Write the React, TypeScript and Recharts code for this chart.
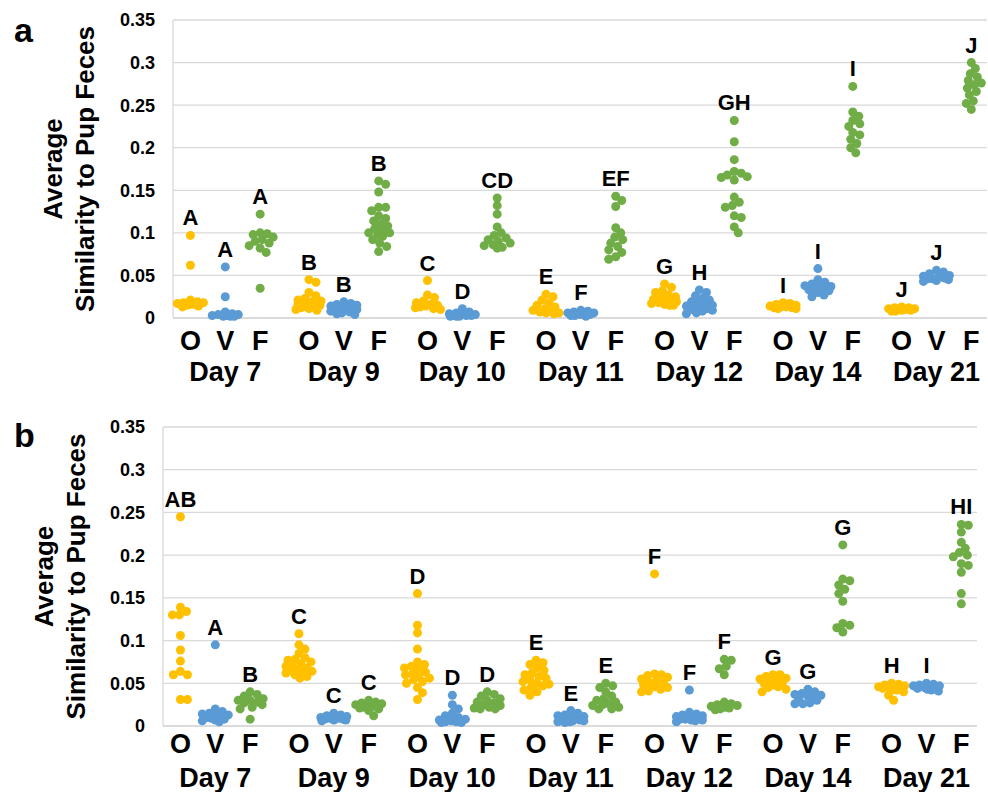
import { ScatterChart, Scatter, XAxis, YAxis, CartesianGrid } from 'recharts';

const days = ['Day 7', 'Day 9', 'Day 10', 'Day 11', 'Day 12', 'Day 14', 'Day 21'];
const groups = ['O', 'V', 'F'];
const colors: Record<string, string> = { O: '#FFC000', V: '#5B9BD5', F: '#70AD47' };
const yTicks = [0, 0.05, 0.1, 0.15, 0.2, 0.25, 0.3, 0.35];

// panel a
const aO = [
  [0.097, 0.062, 0.021, 0.019, 0.018, 0.018, 0.017, 0.016, 0.016, 0.015, 0.014, 0.013],
  [0.045, 0.042, 0.03, 0.026, 0.023, 0.021, 0.02, 0.019, 0.018, 0.018, 0.017, 0.016, 0.016, 0.015, 0.014, 0.013, 0.012, 0.011, 0.01, 0.009],
  [0.044, 0.027, 0.024, 0.02, 0.018, 0.016, 0.015, 0.014, 0.013, 0.012, 0.011, 0.01],
  [0.028, 0.025, 0.021, 0.018, 0.015, 0.013, 0.011, 0.009, 0.008, 0.007, 0.006, 0.006, 0.005],
  [0.04, 0.036, 0.032, 0.03, 0.027, 0.025, 0.024, 0.022, 0.021, 0.02, 0.019, 0.018, 0.017, 0.016, 0.015, 0.015],
  [0.018, 0.017, 0.016, 0.015, 0.014, 0.013, 0.013, 0.012, 0.012, 0.011, 0.011],
  [0.013, 0.012, 0.012, 0.011, 0.011, 0.01, 0.01, 0.009, 0.009, 0.008, 0.008],
];
const aV = [
  [0.06, 0.025, 0.007, 0.005, 0.004, 0.004, 0.003, 0.003, 0.002, 0.002, 0.002],
  [0.019, 0.017, 0.016, 0.015, 0.014, 0.013, 0.013, 0.012, 0.011, 0.011, 0.01, 0.009, 0.008, 0.007, 0.006, 0.005, 0.004],
  [0.011, 0.007, 0.006, 0.005, 0.004, 0.004, 0.003, 0.003, 0.003, 0.002, 0.002, 0.002],
  [0.009, 0.008, 0.007, 0.006, 0.006, 0.005, 0.005, 0.004, 0.004, 0.003, 0.003, 0.002],
  [0.033, 0.03, 0.026, 0.023, 0.021, 0.019, 0.017, 0.016, 0.015, 0.014, 0.013, 0.012, 0.011, 0.01, 0.009, 0.008, 0.006, 0.005],
  [0.058, 0.045, 0.042, 0.04, 0.038, 0.037, 0.036, 0.035, 0.034, 0.033, 0.032, 0.03, 0.027, 0.025],
  [0.056, 0.054, 0.052, 0.05, 0.049, 0.048, 0.047, 0.046, 0.046, 0.045, 0.044, 0.043],
];
const aF = [
  [0.122, 0.1, 0.099, 0.098, 0.095, 0.092, 0.09, 0.088, 0.085, 0.082, 0.077, 0.035],
  [0.161, 0.157, 0.148, 0.13, 0.13, 0.126, 0.12, 0.117, 0.114, 0.11, 0.108, 0.105, 0.102, 0.1, 0.1, 0.098, 0.096, 0.092, 0.088, 0.084, 0.078],
  [0.141, 0.132, 0.122, 0.107, 0.1, 0.097, 0.094, 0.092, 0.09, 0.088, 0.086, 0.085, 0.083, 0.082],
  [0.143, 0.138, 0.131, 0.106, 0.1, 0.095, 0.092, 0.088, 0.084, 0.08, 0.077, 0.072, 0.069],
  [0.232, 0.207, 0.186, 0.172, 0.17, 0.168, 0.166, 0.165, 0.162, 0.142, 0.136, 0.132, 0.13, 0.12, 0.118, 0.107, 0.1],
  [0.272, 0.242, 0.237, 0.232, 0.228, 0.225, 0.218, 0.215, 0.21, 0.205, 0.2, 0.194],
  [0.3, 0.293, 0.287, 0.283, 0.279, 0.276, 0.274, 0.27, 0.266, 0.262, 0.255, 0.252, 0.245],
];
const aLetters = [
  ['A', 'A', 'A'],
  ['B', 'B', 'B'],
  ['C', 'D', 'CD'],
  ['E', 'F', 'EF'],
  ['G', 'H', 'GH'],
  ['I', 'I', 'I'],
  ['J', 'J', 'J'],
];

// panel b
const bO = [
  [0.245, 0.139, 0.134, 0.13, 0.13, 0.106, 0.089, 0.076, 0.064, 0.06, 0.06, 0.031, 0.031],
  [0.108, 0.095, 0.09, 0.085, 0.08, 0.078, 0.077, 0.075, 0.073, 0.072, 0.07, 0.068, 0.066, 0.065, 0.064, 0.063, 0.062, 0.06, 0.058, 0.056],
  [0.155, 0.118, 0.109, 0.09, 0.075, 0.072, 0.07, 0.068, 0.066, 0.063, 0.061, 0.06, 0.058, 0.056, 0.054, 0.052, 0.05, 0.045, 0.039, 0.031],
  [0.077, 0.074, 0.072, 0.068, 0.065, 0.062, 0.06, 0.058, 0.056, 0.054, 0.052, 0.05, 0.049, 0.047, 0.045, 0.042, 0.04, 0.036],
  [0.178, 0.061, 0.06, 0.059, 0.057, 0.055, 0.053, 0.051, 0.05, 0.048, 0.046, 0.045, 0.043, 0.041, 0.04],
  [0.06, 0.06, 0.058, 0.056, 0.055, 0.053, 0.052, 0.05, 0.05, 0.048, 0.046, 0.045, 0.043, 0.04],
  [0.05, 0.049, 0.048, 0.047, 0.046, 0.046, 0.045, 0.045, 0.044, 0.043, 0.042, 0.04, 0.036, 0.03],
];
const bV = [
  [0.095, 0.02, 0.017, 0.015, 0.014, 0.013, 0.012, 0.011, 0.01, 0.009, 0.008, 0.007, 0.006, 0.005],
  [0.015, 0.013, 0.012, 0.011, 0.01, 0.01, 0.009, 0.009, 0.008, 0.008, 0.007, 0.007, 0.006],
  [0.036, 0.025, 0.02, 0.015, 0.012, 0.01, 0.008, 0.007, 0.006, 0.005, 0.005, 0.004, 0.004],
  [0.018, 0.015, 0.013, 0.012, 0.011, 0.01, 0.009, 0.008, 0.008, 0.007, 0.006, 0.006, 0.005, 0.005, 0.004],
  [0.042, 0.016, 0.014, 0.013, 0.012, 0.011, 0.01, 0.01, 0.009, 0.008, 0.008, 0.007, 0.007, 0.006, 0.005],
  [0.043, 0.04, 0.038, 0.037, 0.036, 0.035, 0.035, 0.033, 0.03, 0.027, 0.026, 0.026],
  [0.05, 0.049, 0.048, 0.047, 0.047, 0.046, 0.045, 0.045, 0.044, 0.043, 0.042, 0.041],
];
const bF = [
  [0.04, 0.037, 0.035, 0.032, 0.03, 0.03, 0.028, 0.027, 0.025, 0.022, 0.02, 0.008],
  [0.03, 0.028, 0.027, 0.026, 0.025, 0.024, 0.023, 0.022, 0.021, 0.02, 0.018, 0.012],
  [0.04, 0.037, 0.035, 0.032, 0.03, 0.028, 0.027, 0.025, 0.024, 0.022, 0.021, 0.02, 0.02],
  [0.05, 0.047, 0.045, 0.04, 0.035, 0.032, 0.03, 0.028, 0.026, 0.025, 0.024, 0.022, 0.02, 0.02],
  [0.078, 0.077, 0.07, 0.067, 0.06, 0.028, 0.026, 0.025, 0.024, 0.023, 0.022, 0.021, 0.02, 0.019],
  [0.212, 0.172, 0.17, 0.165, 0.16, 0.155, 0.146, 0.12, 0.118, 0.115, 0.11],
  [0.236, 0.235, 0.227, 0.215, 0.208, 0.203, 0.2, 0.198, 0.19, 0.188, 0.18, 0.155, 0.143],
];
const bLetters = [
  ['AB', 'A', 'B'],
  ['C', 'C', 'C'],
  ['D', 'D', 'D'],
  ['E', 'E', 'E'],
  ['F', 'F', 'F'],
  ['G', 'G', 'G'],
  ['H', 'I', 'HI'],
];

const FONT = 'Liberation Sans, Arial, sans-serif';
const W = 988;
const H = 396;
const GROUP_STEP = 3.4;
const X_MIN = -0.5;
const X_MAX = 22.85;
const Y_MAX = 0.35;
const DOT_R = 4.5;
const DOT_GAP = 7;
const MAX_SPREAD = 13;

const slotX = (d: number, g: number) => d * GROUP_STEP + g;
const xTicks = days.flatMap((_, d) => groups.map((_, g) => slotX(d, g)));

// compact beeswarm: nudge each dot sideways (px) within ±MAX_SPREAD, overlapping when it has to
function swarm(values: number[], center: number, pxX: number, pxY: number) {
  const placed: { x: number; y: number }[] = [];
  const cands: number[] = [0];
  for (let k = 1; k <= MAX_SPREAD; k++) cands.push(k, -k);
  return [...values]
    .sort((a, b) => b - a)
    .map((v) => {
      const py = v * pxY;
      let best = 0;
      let bestDist = -1;
      for (const c of cands) {
        const dmin = placed.reduce((m, p) => Math.min(m, Math.hypot(p.x - c, p.y - py)), Infinity);
        if (dmin >= DOT_GAP) {
          best = c;
          break;
        }
        if (dmin > bestDist + 0.5) {
          bestDist = dmin;
          best = c;
        }
      }
      placed.push({ x: best, y: py });
      return { x: center + best / pxX, y: v };
    });
}

const Dot = (color: string) => (p: any) => <circle cx={p.cx} cy={p.cy} r={DOT_R} fill={color} />;

const LetterShape = (p: any) => (
  <text x={p.cx} y={p.cy - 10} textAnchor="middle" fontSize={22} fontWeight={700} fontFamily={FONT} fill="#000">
    {p.payload.label}
  </text>
);

interface PanelProps {
  O: number[][];
  V: number[][];
  F: number[][];
  letters: string[][];
  panelLetter: string;
  letterY: number;
  plotLeft: number;
  plotRight: number;
  plotTop: number;
  plotBottom: number;
  groupBase: number;
  dayBase: number;
  titleX1: number;
  titleX2: number;
  tickRight: number;
}

function Panel(props: PanelProps) {
  const { O, V, F, letters, plotLeft, plotRight, plotTop, plotBottom } = props;
  const pxX = (plotRight - plotLeft) / (X_MAX - X_MIN);
  const pxY = (plotBottom - plotTop) / Y_MAX;
  const series = { O, V, F } as Record<string, number[][]>;
  const data = groups.map((g, gi) =>
    days.flatMap((_, d) => swarm(series[g][d], slotX(d, gi), pxX, pxY))
  );
  const letterData = days.flatMap((_, d) =>
    groups.map((g, gi) => ({ x: slotX(d, gi), y: Math.max(...series[g][d]), label: letters[d][gi] }))
  );
  const yAxisW = 70;
  const xAxisH = H - plotBottom - 6;
  const midY = (plotTop + plotBottom) / 2;

  const XTick = (p: any) => {
    const idx = xTicks.findIndex((t) => Math.abs(t - p.payload.value) < 1e-6);
    const gi = idx % 3;
    const d = Math.floor(idx / 3);
    return (
      <g>
        <text x={p.x} y={props.groupBase} textAnchor="middle" fontSize={27} fontWeight={700} fontFamily={FONT} fill="#000">
          {groups[gi]}
        </text>
        {gi === 1 && (
          <text x={p.x} y={props.dayBase} textAnchor="middle" fontSize={27} fontWeight={700} fontFamily={FONT} fill="#000">
            {days[d]}
          </text>
        )}
      </g>
    );
  };

  const titles = () => (
    <g fontFamily={FONT} fontWeight={700} fill="#000">
      <text x={14} y={props.letterY} fontSize={34}>{props.panelLetter}</text>
      <text
        x={props.titleX1}
        y={midY}
        fontSize={26}
        textAnchor="middle"
        dominantBaseline="central"
        transform={`rotate(-90 ${props.titleX1} ${midY})`}
      >
        Average
      </text>
      <text
        x={props.titleX2}
        y={midY}
        fontSize={26}
        textAnchor="middle"
        dominantBaseline="central"
        transform={`rotate(-90 ${props.titleX2} ${midY})`}
      >
        Similarity to Pup Feces
      </text>
    </g>
  );

  return (
    <ScatterChart
      width={W}
      height={H}
      margin={{ top: plotTop, right: W - plotRight, left: plotLeft - yAxisW, bottom: 6 }}
    >
      <CartesianGrid horizontal vertical={false} stroke="#d9d9d9" strokeWidth={1.3} />
      <XAxis
        type="number"
        dataKey="x"
        domain={[X_MIN, X_MAX]}
        ticks={xTicks}
        interval={0}
        height={xAxisH}
        axisLine={{ stroke: '#d9d9d9', strokeWidth: 1.3 }}
        tickLine={false}
        tickSize={0}
        tick={XTick}
      />
      <YAxis
        type="number"
        dataKey="y"
        domain={[0, Y_MAX]}
        ticks={yTicks}
        width={yAxisW}
        axisLine={{ stroke: '#d9d9d9', strokeWidth: 1.3 }}
        tickLine={false}
        tickSize={0}
        tickMargin={plotLeft - props.tickRight}
        tick={{ fontSize: 18, fontWeight: 700, fill: '#000', fontFamily: FONT }}
        label={{ content: titles }}
      />
      {groups.map((g, gi) => (
        <Scatter key={g} data={data[gi]} shape={Dot(colors[g])} isAnimationActive={false} />
      ))}
      <Scatter data={letterData} shape={LetterShape} isAnimationActive={false} />
    </ScatterChart>
  );
}

export default function App() {
  return (
    <div style={{ position: 'absolute', left: 0, top: 0, width: W, height: 792, background: '#fff' }}>
      <Panel
        O={aO}
        V={aV}
        F={aF}
        letters={aLetters}
        panelLetter="a"
        letterY={42}
        plotLeft={173}
        plotRight={987}
        plotTop={20}
        plotBottom={318}
        groupBase={350}
        dayBase={381}
        titleX1={53}
        titleX2={85}
        tickRight={155}
      />
      <Panel
        O={bO}
        V={bV}
        F={bF}
        letters={bLetters}
        panelLetter="b"
        letterY={51}
        plotLeft={163}
        plotRight={977}
        plotTop={31}
        plotBottom={330}
        groupBase={357}
        dayBase={391}
        titleX1={44}
        titleX2={76}
        tickRight={145}
      />
    </div>
  );
}
